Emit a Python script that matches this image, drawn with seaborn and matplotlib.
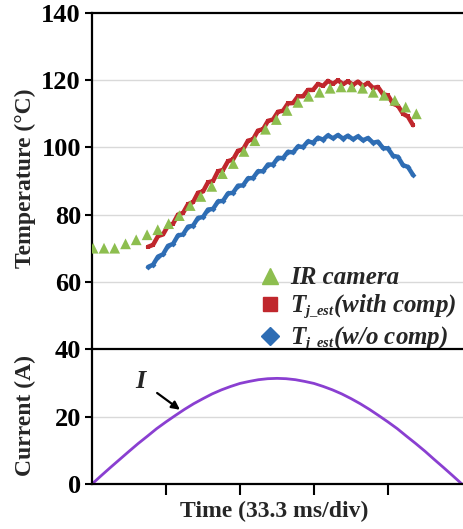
import matplotlib
matplotlib.use("Agg")
import matplotlib.pyplot as plt
import matplotlib._mathtext as _mt
from matplotlib.lines import Line2D
import seaborn as sns
import pandas as pd

# ---------------- data ----------------
ir_time = [0.5, 5.4, 10.2, 15.1, 19.9, 24.8, 29.6, 34.5, 39.3, 44.2, 49.0, 53.9, 58.7,
           63.6, 68.4, 73.3, 78.1, 83.0, 87.8, 92.7, 97.5, 102.4, 107.2, 112.1, 116.9,
           121.8, 126.6, 131.5, 136.3, 141.2, 146.0]
ir_temp = [70.0, 70.0, 70.0, 71.3, 72.5, 74.0, 75.5, 77.3, 79.7, 82.7, 85.4, 88.4, 92.2,
           95.2, 98.8, 102.0, 105.4, 108.3, 111.0, 113.4, 115.2, 116.4, 117.6, 118.0, 118.0,
           117.6, 116.4, 115.5, 114.0, 112.0, 110.0]

est_time = [25.2, 27.5, 29.7, 32.0, 34.2, 36.5, 38.7, 41.0, 43.2, 45.5, 47.7, 50.0, 52.2,
            54.5, 56.7, 59.0, 61.2, 63.5, 65.7, 68.0, 70.2, 72.5, 74.7, 77.0, 79.2, 81.5,
            83.7, 86.0, 88.2, 90.5, 92.7, 95.0, 97.2, 99.5, 101.7, 104.0, 106.2, 108.5,
            110.7, 113.0, 115.2, 117.5, 119.7, 122.0, 124.2, 126.5, 128.7, 131.0, 133.2,
            135.5, 137.7, 140.0, 142.2, 144.5]
tj_with_comp = [70.4, 71.0, 73.6, 74.1, 76.7, 77.3, 80.0, 80.5, 83.1, 83.7, 86.5, 86.9, 89.6,
                90.0, 92.9, 93.3, 95.9, 96.4, 99.0, 99.4, 102.0, 102.4, 105.0, 105.4, 107.9,
                108.3, 110.6, 110.9, 113.1, 113.2, 115.2, 115.2, 117.1, 117.1, 118.9, 118.3,
                119.8, 118.9, 120.0, 118.8, 119.7, 118.6, 119.6, 118.3, 119.2, 117.7, 118.0,
                115.8, 115.5, 113.0, 112.4, 110.0, 109.2, 106.6]
tj_wo_comp = [64.4, 65.1, 67.5, 68.2, 70.7, 71.3, 73.8, 74.1, 76.4, 76.7, 79.0, 79.3, 81.5,
              81.7, 83.9, 84.1, 86.3, 86.5, 88.6, 88.7, 90.8, 90.9, 92.9, 92.9, 94.9, 94.9,
              96.9, 96.8, 98.7, 98.5, 100.3, 100.1, 101.8, 101.4, 102.9, 102.3, 103.6, 102.7,
              103.7, 102.6, 103.5, 102.4, 103.3, 102.1, 102.8, 101.4, 101.7, 99.8, 99.7,
              97.5, 97.2, 94.7, 94.2, 91.8]

cur_time = [0, 4.2, 8.3, 12.5, 16.7, 20.8, 25.0, 29.1, 33.3, 37.5, 41.6, 45.8, 50.0, 54.1,
            58.3, 62.4, 66.6, 70.8, 74.9, 79.1, 83.3, 87.4, 91.6, 95.7, 99.9, 104.1, 108.2,
            112.4, 116.6, 120.7, 124.9, 129.0, 133.2, 137.4, 141.5, 145.7, 149.9, 154.0,
            158.2, 162.3, 166.5]
current = [0, 2.5, 4.9, 7.3, 9.7, 12.0, 14.2, 16.4, 18.4, 20.3, 22.1, 23.8, 25.3, 26.7,
           27.9, 28.9, 29.8, 30.4, 30.9, 31.2, 31.3, 31.2, 30.9, 30.4, 29.8, 28.9, 27.9,
           26.7, 25.3, 23.8, 22.1, 20.3, 18.4, 16.4, 14.2, 12.0, 9.7, 7.3, 4.9, 2.5, 0]

temp_ticks = [60, 80, 100, 120, 140]
cur_ticks = [0, 20, 40]
time_ticks = [33.3, 66.6, 99.9, 133.2]

labels = ["IR camera", r"$T_{j\_est}$(with comp)", r"$T_{j\_est}$(w/o comp)"]

# ---------------- style ----------------
_mt.SHRINK_FACTOR = 0.58  # compact subscripts like the reference
sns.set_theme(style="white")
plt.rcParams["font.family"] = ["Liberation Serif", "DejaVu Serif"]
plt.rcParams["font.weight"] = "bold"
plt.rcParams["mathtext.fontset"] = "custom"
plt.rcParams["mathtext.it"] = "Liberation Serif:italic:bold"
plt.rcParams["mathtext.rm"] = "Liberation Serif:bold"
plt.rcParams["mathtext.bf"] = "Liberation Serif:bold"

GREEN = "#8DBE4F"
RED = "#C0272D"
BLUE = "#2E6DB4"
PURPLE = "#8A3FD1"
GRID = "#D9D9D9"

fig = plt.figure(figsize=(4.63, 5.29), dpi=100)
ax1 = fig.add_axes([92 / 463, 1 - 349 / 529, 1 - 92 / 463, (349 - 13) / 529])
ax2 = fig.add_axes([92 / 463, 1 - 484 / 529, 1 - 92 / 463, (484 - 349) / 529])

df_ir = pd.DataFrame({"t": ir_time, "T": ir_temp})
df_est = pd.DataFrame({"t": est_time, "with": tj_with_comp, "wo": tj_wo_comp})
df_cur = pd.DataFrame({"t": cur_time, "I": current})

# temperature
sns.lineplot(data=df_est, x="t", y="wo", ax=ax1, color=BLUE, lw=3.2,
             marker="D", markersize=3, markeredgewidth=0, zorder=2)
sns.lineplot(data=df_est, x="t", y="with", ax=ax1, color=RED, lw=3.2,
             marker="s", markersize=3, markeredgewidth=0, zorder=3)
sns.scatterplot(data=df_ir, x="t", y="T", ax=ax1, color=GREEN, marker="^",
                s=60, edgecolor="none", zorder=4)

# current
sns.lineplot(data=df_cur, x="t", y="I", ax=ax2, color=PURPLE, lw=2.0)

for ax in (ax1, ax2):
    ax.set_xlim(0, 167)
    ax.set_xlabel("")
    ax.set_ylabel("")
    ax.grid(False)
    for s in ax.spines.values():
        s.set_color("black")
        s.set_linewidth(1.6)
    ax.spines["right"].set_visible(False)
    ax.tick_params(axis="y", which="both", left=True, length=5, width=1.5,
                   direction="out", labelsize=19, pad=3, colors="black")

ax1.set_ylim(40, 140)
ax1.set_yticks(temp_ticks)
for v in [60, 80, 100, 120]:
    ax1.axhline(v, color=GRID, lw=1.0, zorder=0)
ax1.set_xticks([])
ax1.spines["bottom"].set_visible(False)

ax2.set_ylim(0, 40)
ax2.set_yticks(cur_ticks)
ax2.axhline(20, color=GRID, lw=1.0, zorder=0)
ax2.set_xticks(time_ticks)
ax2.set_xticklabels([])
ax2.tick_params(axis="x", bottom=True, length=8, width=1.5, direction="out",
                colors="black")

for lab in ax1.get_yticklabels() + ax2.get_yticklabels():
    lab.set_fontweight("bold")

fig.text(25 / 463, 1 - 178 / 529, "Temperature (°C)", rotation=90, ha="center",
         va="center", fontsize=17, fontweight="bold")
fig.text(25 / 463, 1 - 415 / 529, "Current (A)", rotation=90, ha="center",
         va="center", fontsize=17, fontweight="bold")
fig.text(274 / 463, 1 - 511 / 529, "Time (33.3 ms/div)", ha="center", va="center",
         fontsize=17, fontweight="bold")

ax2.annotate("I", xy=(39.6, 22.0), xytext=(22.0, 30.5), fontsize=19,
             fontweight="bold", fontstyle="italic", ha="center", va="center",
             arrowprops=dict(arrowstyle="-|>", color="black", lw=1.6,
                             shrinkA=7, shrinkB=0, mutation_scale=12))

handles = [
    Line2D([], [], ls="none", marker="^", color=GREEN, markersize=12),
    Line2D([], [], ls="none", marker="s", color=RED, markersize=10),
    Line2D([], [], ls="none", marker="D", color=BLUE, markersize=9),
]
leg = ax1.legend(handles, labels, loc="upper left", bbox_to_anchor=(245 / 463, 1 - 254 / 529),
                 bbox_transform=fig.transFigure, frameon=False, handlelength=1.0,
                 handletextpad=0.3, labelspacing=0.12, borderpad=0,
                 prop=dict(family="Liberation Serif", weight="bold", style="italic", size=18))

fig.savefig("out.png", dpi=100)
